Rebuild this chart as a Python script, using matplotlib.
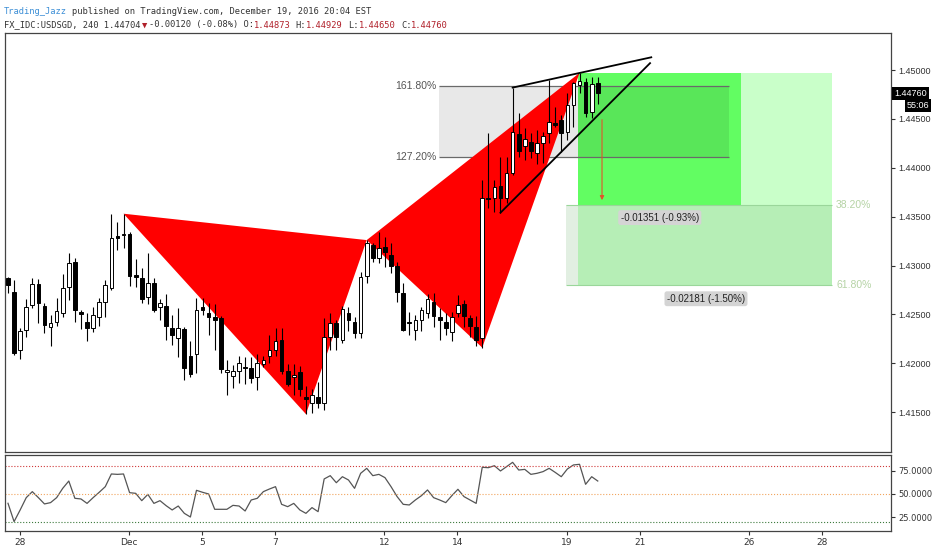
import numpy as np
import matplotlib.pyplot as plt
from matplotlib.patches import Polygon, Rectangle
from matplotlib.transforms import blended_transform_factory

# USDSGD 4h candles (bar index = position on the axis)
opens = [1.4287, 1.4273, 1.4214, 1.4234, 1.4260, 1.4281, 1.4259, 1.4237, 1.4242, 1.4251,
         1.4278, 1.4304, 1.4252, 1.4242, 1.4236, 1.4247, 1.4263, 1.4277, 1.4330, 1.4331,
         1.4332, 1.4290, 1.4287, 1.4268, 1.4282, 1.4258, 1.4259, 1.4236, 1.4226, 1.4235,
         1.4207, 1.4209, 1.4258, 1.4251, 1.4247, 1.4246, 1.4191, 1.4187, 1.4192, 1.4196,
         1.4195, 1.4186, 1.4199, 1.4207, 1.4214, 1.4224, 1.4192, 1.4186, 1.4191, 1.4165,
         1.4159, 1.4165, 1.4159, 1.4227, 1.4241, 1.4224, 1.4251, 1.4242, 1.4231, 1.4289,
         1.4321, 1.4308, 1.4319, 1.4311, 1.4300, 1.4272, 1.4242, 1.4234, 1.4244, 1.4251,
         1.4263, 1.4247, 1.4242, 1.4232, 1.4251, 1.4261, 1.4246, 1.4237, 1.4226, 1.4369,
         1.4369, 1.4381, 1.4369, 1.4395, 1.4435, 1.4422, 1.4426, 1.4415, 1.4425, 1.4436,
         1.4446, 1.4449, 1.4437, 1.4464, 1.4485, 1.4488, 1.4457, 1.4487]
highs = [1.4288, 1.4285, 1.4236, 1.4266, 1.4287, 1.4286, 1.4262, 1.4249, 1.4267, 1.4291,
         1.4313, 1.4308, 1.4254, 1.4251, 1.4258, 1.4267, 1.4285, 1.4353, 1.4344, 1.4353,
         1.4334, 1.4307, 1.4297, 1.4313, 1.4287, 1.4266, 1.4271, 1.4249, 1.4257, 1.4237,
         1.4223, 1.4267, 1.4267, 1.4262, 1.4261, 1.4248, 1.4203, 1.4198, 1.4207, 1.4206,
         1.4206, 1.4209, 1.4207, 1.4229, 1.4236, 1.4236, 1.4199, 1.4199, 1.4197, 1.4177,
         1.4174, 1.4181, 1.4246, 1.4251, 1.4244, 1.4259, 1.4258, 1.4247, 1.4293, 1.4326,
         1.4323, 1.4334, 1.4329, 1.4323, 1.4304, 1.4282, 1.4252, 1.4249, 1.4258, 1.4271,
         1.4272, 1.4257, 1.4251, 1.4252, 1.4270, 1.4265, 1.4249, 1.4248, 1.4387, 1.4436,
         1.4387, 1.4411, 1.4411, 1.4482, 1.4456, 1.4441, 1.4436, 1.4439, 1.4437, 1.4490,
         1.4462, 1.4454, 1.4476, 1.4488, 1.4497, 1.4492, 1.4493, 1.4493]
lows = [1.4272, 1.4208, 1.4204, 1.4227, 1.4257, 1.4241, 1.4231, 1.4218, 1.4238, 1.4247,
        1.4265, 1.4242, 1.4235, 1.4223, 1.4232, 1.4238, 1.4247, 1.4275, 1.4316, 1.4318,
        1.4279, 1.4278, 1.4262, 1.4261, 1.4252, 1.4244, 1.4224, 1.4219, 1.4206, 1.4183,
        1.4186, 1.4190, 1.4249, 1.4229, 1.4214, 1.4190, 1.4168, 1.4175, 1.4180, 1.4179,
        1.4180, 1.4173, 1.4196, 1.4200, 1.4207, 1.4189, 1.4177, 1.4168, 1.4166, 1.4148,
        1.4149, 1.4154, 1.4152, 1.4214, 1.4214, 1.4221, 1.4233, 1.4226, 1.4226, 1.4282,
        1.4304, 1.4303, 1.4298, 1.4292, 1.4263, 1.4233, 1.4229, 1.4224, 1.4233, 1.4246,
        1.4237, 1.4224, 1.4229, 1.4223, 1.4247, 1.4237, 1.4227, 1.4218, 1.4216, 1.4359,
        1.4355, 1.4354, 1.4364, 1.4393, 1.4411, 1.4408, 1.4410, 1.4404, 1.4405, 1.4425,
        1.4442, 1.4416, 1.4428, 1.4442, 1.4476, 1.4452, 1.4451, 1.4465]
closes = [1.4280, 1.4210, 1.4233, 1.4258, 1.4281, 1.4262, 1.4239, 1.4241, 1.4253, 1.4277,
          1.4303, 1.4254, 1.4250, 1.4236, 1.4249, 1.4263, 1.4280, 1.4328, 1.4328, 1.4332,
          1.4289, 1.4288, 1.4266, 1.4282, 1.4254, 1.4262, 1.4238, 1.4229, 1.4236, 1.4195,
          1.4189, 1.4254, 1.4254, 1.4247, 1.4244, 1.4194, 1.4193, 1.4192, 1.4200, 1.4195,
          1.4185, 1.4200, 1.4203, 1.4214, 1.4223, 1.4192, 1.4179, 1.4188, 1.4174, 1.4163,
          1.4168, 1.4159, 1.4227, 1.4241, 1.4227, 1.4255, 1.4244, 1.4231, 1.4288, 1.4323,
          1.4308, 1.4318, 1.4314, 1.4300, 1.4273, 1.4234, 1.4241, 1.4244, 1.4254, 1.4266,
          1.4248, 1.4244, 1.4236, 1.4247, 1.4260, 1.4248, 1.4238, 1.4224, 1.4369, 1.4368,
          1.4380, 1.4369, 1.4395, 1.4437, 1.4417, 1.4429, 1.4417, 1.4425, 1.4432, 1.4447,
          1.4444, 1.4436, 1.4464, 1.4487, 1.4489, 1.4456, 1.4486, 1.4476]

rsi = [40.1, 20.6, 33, 46.1, 52.5, 46.1, 39.4, 40.8, 46.1, 56,
       63.8, 45.4, 44.7, 40, 46.1, 51.8, 57.8, 71.3, 70.9, 71.3,
       51.4, 50.7, 42.9, 49.6, 40, 42.9, 37.6, 33, 37.2, 29.4,
       25.5, 53.9, 51.8, 50, 33.7, 33.7, 33.7, 37.9, 37.2, 31.9,
       43.6, 45.4, 52.5, 55.3, 57.8, 39, 36.5, 40, 33, 29.4,
       35.5, 31.2, 66, 69.5, 62, 68.4, 64.9, 56, 72, 77.3,
       69.5, 70.9, 67.4, 57.8, 47.2, 39, 38.3, 43.6, 48.2, 54.3,
       46.1, 43.6, 40.8, 48.2, 55, 47.2, 43.6, 40, 78.4, 78,
       80.1, 74.5, 79.1, 83.7, 75.5, 76.2, 70.9, 72, 73.8, 77.3,
       73, 68.4, 76.6, 80.9, 81.6, 60.3, 68.4, 63.8]

# XABCD pattern pivots (bar index)
pivot_bars = [19, 49, 59, 78, 94]
# rising wedge: [start bar, start price, end bar, end price]
wedge_upper = [83, 1.4482, 105.8, 1.4513]
wedge_lower = [81, 1.4354, 105.6, 1.4507]
# fib extension box
fib_left, fib_right = 70.9, 118.6
fib_levels = [1.4484, 1.4411]
fib_names = ["161.80%", "127.20%"]
# target zones
target_top, target_mid, target_low = 1.4497, 1.4362, 1.4280
target_bars = [91.8, 93.75, 120.6, 135.5]
ret_names = ["38.20%", "61.80%"]

# day ticks: trading-day index -> label
bars_per_day = 6
tick_days = [0, 3, 5, 7, 10, 12, 15, 17, 20, 22]
tick_labels = ["28", "Dec", "5", "7", "12", "14", "19", "21", "26", "28"]

W, H = 932, 550
fig = plt.figure(figsize=(W / 100, H / 100), dpi=100)
fig.patch.set_facecolor("white")
ax = fig.add_axes([4.5 / W, 98 / H, 886.5 / W, 419 / H])
rax = fig.add_axes([4.5 / W, 19 / H, 886.5 / W, 76 / H], sharex=ax)

O = np.array(opens); Hh = np.array(highs); L = np.array(lows); C = np.array(closes)
x = np.arange(len(C))
up = C >= O

# target zones
b0, b1, b2, b3 = target_bars
ax.add_patch(Rectangle((b1, target_mid), b2 - b1, target_top - target_mid, fc="#62fd62", ec="none", zorder=1))
ax.add_patch(Rectangle((b2, target_mid), b3 - b2, target_top - target_mid, fc="#c9ffc9", ec="none", zorder=1))
ax.add_patch(Rectangle((b0, target_low), b1 - b0, target_mid - target_low, fc="#e2efe2", ec="none", zorder=1))
ax.add_patch(Rectangle((b1, target_low), b3 - b1, target_mid - target_low, fc="#b6eeb6", ec="none", zorder=1))
ax.hlines([target_mid, target_low], b0, b3, color="#9ad69a", lw=0.8, zorder=1.5)
for lvl, name in zip([target_mid, target_low], ret_names):
    ax.text(b3 + 0.7, lvl, name, ha="left", va="center", fontsize=7.5, color="#b5d3a5",
            family="Liberation Sans")

# fib box (translucent grey)
ax.add_patch(Rectangle((fib_left, fib_levels[1]), fib_right - fib_left, fib_levels[0] - fib_levels[1],
                       fc="black", alpha=0.09, ec="none", zorder=2))
ax.hlines(fib_levels, fib_left, fib_right, color="#6a6a6a", lw=0.9, zorder=2.5)
for lvl, name in zip(fib_levels, fib_names):
    ax.text(fib_left - 0.5, lvl, name, ha="right", va="center", fontsize=7.5, color="#555555",
            family="Liberation Sans")

# harmonic pattern triangles
px = pivot_bars
py = [Hh[px[0]], L[px[1]], Hh[px[2]], L[px[3]], Hh[px[4]]]
ax.add_patch(Polygon([(px[0], py[0]), (px[1], py[1]), (px[2], py[2])], closed=True, fc="#ff0000", ec="none", zorder=3))
ax.add_patch(Polygon([(px[2], py[2]), (px[3], py[3]), (px[4], py[4])], closed=True, fc="#ff0000", ec="none", zorder=3))

# candles
ax.vlines(x, L, Hh, color="black", lw=0.8, zorder=4)
body = np.maximum(np.abs(C - O), 0.00003)
ax.bar(x, body, bottom=np.minimum(O, C), width=0.6, color=np.where(up, "white", "black"),
       edgecolor="black", linewidth=0.7, zorder=5)

# wedge lines
ax.plot(wedge_upper[0::2], wedge_upper[1::2], color="black", lw=1.3, zorder=6)
ax.plot(wedge_lower[0::2], wedge_lower[1::2], color="black", lw=1.3, zorder=6)

# projection arrow + measure labels
ax.annotate("", xy=(97.7, target_mid + 0.0002), xytext=(97.7, 1.4452),
            arrowprops=dict(arrowstyle="-|>", color="#e0552a", lw=0.8, mutation_scale=6), zorder=6)
ax.text(107.2, 1.4349, "-0.01351 (-0.93%)", ha="center", va="center", fontsize=7, color="#222",
        family="Liberation Sans", bbox=dict(boxstyle="round,pad=0.25", fc="#d4d4d4", ec="none"), zorder=7)
ax.text(114.8, 1.4266, "-0.02181 (-1.50%)", ha="center", va="center", fontsize=7, color="#222",
        family="Liberation Sans", bbox=dict(boxstyle="round,pad=0.25", fc="#d4d4d4", ec="none"), zorder=7)

ax.set_xlim((4.5 - 8) / 6.08, (891 - 8) / 6.08)
ax.set_ylim(1.45 - (452 - 70) * 0.0001023, 1.45 + (70 - 33) * 0.0001023)
ax.yaxis.tick_right()
ax.set_yticks(np.arange(1.415, 1.4501, 0.005))
ax.yaxis.set_major_formatter(plt.FormatStrFormatter("%.5f"))
ax.tick_params(axis="y", labelsize=6.5, length=3, pad=2, colors="#333333")
ax.tick_params(axis="x", bottom=False, labelbottom=False)
for lab in ax.get_yticklabels():
    lab.set_family("Liberation Sans")
for s in ax.spines.values():
    s.set_color("#444444")
    s.set_linewidth(0.9)

# last price / countdown tags
trans = blended_transform_factory(ax.transAxes, ax.transData)
ax.text(1.0035, 1.4476, "1.44760", transform=trans, ha="left", va="center", fontsize=6.5, color="white",
        family="Liberation Sans", bbox=dict(boxstyle="square,pad=0.2", fc="black", ec="none"), clip_on=False)
ax.text(1.043, 1.44637, "55:06", transform=trans, ha="right", va="center", fontsize=6.5, color="white",
        family="Liberation Sans", bbox=dict(boxstyle="square,pad=0.2", fc="black", ec="none"), clip_on=False)

# RSI panel
rax.plot(x, rsi, color="#555555", lw=0.9)
rax.axhline(80, color="#d03a3a", lw=0.8, ls=":")
rax.axhline(50, color="#f2a55e", lw=0.8, ls=":")
rax.axhline(20, color="#3d7a3d", lw=0.8, ls=":")
rax.set_ylim(10.6, 91.5)
rax.yaxis.tick_right()
rax.set_yticks([25, 50, 75])
rax.yaxis.set_major_formatter(plt.FormatStrFormatter("%.4f"))
rax.tick_params(axis="y", labelsize=6, length=3, pad=2, colors="#333333")
rax.set_xticks([1.9 + bars_per_day * d for d in tick_days])
rax.set_xticklabels(tick_labels)
rax.tick_params(axis="x", labelsize=6.5, length=3, pad=2, colors="#333333")
for s in rax.spines.values():
    s.set_color("#444444")
    s.set_linewidth(0.9)

# header, drawn piece by piece so colours can change mid-line
mono = ["DejaVu Sans Mono", "DejaVu Sans"]
fs = 6.3
renderer = fig.canvas.get_renderer()
dark, red, blue = "#333333", "#b0202a", "#3d8fd6"
space = 5.3  # one monospace character, px


def header_line(y, parts):
    xpos = 4
    for txt, col, gap in parts:
        xpos += gap
        t = fig.text(xpos / W, y, txt, color=col, fontsize=fs, family=mono, va="center")
        xpos += t.get_window_extent(renderer=renderer).width


header_line(1 - 11 / H, [("Trading_Jazz", blue, 0),
                         ("published on TradingView.com, December 19, 2016 20:04 EST", dark, space)])
header_line(1 - 25 / H, [("FX_IDC:USDSGD, 240 1.44704", dark, 0), ("▼", red, 1.5),
                         ("-0.00120 (-0.08%) O:", dark, 1.5), ("1.44873", red, 0),
                         ("H:", dark, space), ("1.44929", red, 0), ("L:", dark, space),
                         ("1.44650", red, 0), ("C:", dark, space), ("1.44760", red, 0)])

fig.savefig("out.png", dpi=100)
